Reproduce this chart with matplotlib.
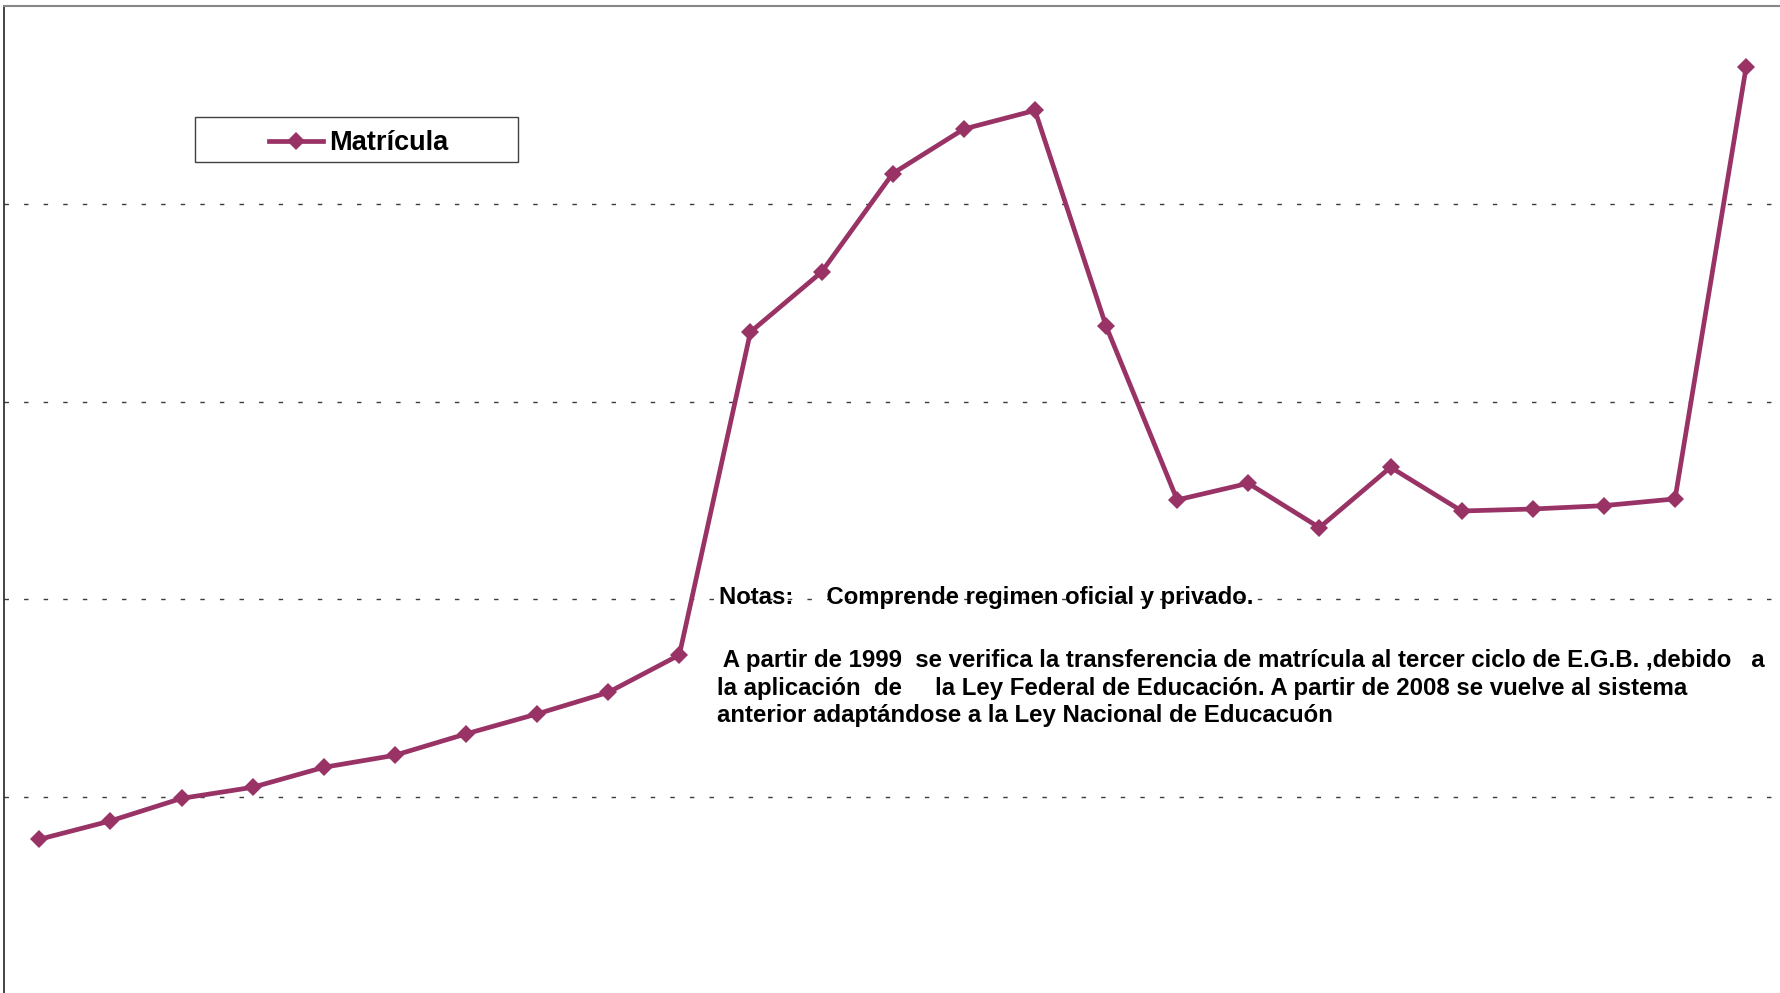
import numpy as np
import matplotlib
matplotlib.use("Agg")
import matplotlib.pyplot as plt
from matplotlib.patches import Rectangle

# datos (sin etiquetas de eje en el original)
anios = list(range(1984, 2009))
matricula = [787, 880, 994, 1050, 1151, 1212, 1320, 1421, 1530, 1719,
             3352, 3655, 4153, 4378, 4472, 3382, 2503, 2587, 2363, 2668,
             2447, 2457, 2474, 2508, 4692]
serie = "Matrícula"
nota_titulo = "Notas:     Comprende regimen oficial y privado."
nota_lineas = [
    " A partir de 1999  se verifica la transferencia de matrícula al tercer ciclo de E.G.B. ,debido   a",
    "la aplicación  de     la Ley Federal de Educación. A partir de 2008 se vuelve al sistema",
    "anterior adaptándose a la Ley Nacional de Educacuón",
]
grilla = [1000, 2000, 3000, 4000]

plt.rcParams["font.family"] = ["Liberation Sans", "DejaVu Sans"]

W, H = 1780, 993
color = "#993366"


def fx(px):
    return px / W


def fy(py):
    return 1 - py / H


fig = plt.figure(figsize=(W / 100, H / 100), dpi=100)
ax = fig.add_axes([fx(3.7), fy(995), 1778 / W, 989 / H])

ax.plot(anios, matricula, color=color, lw=3.4, marker="D", ms=9.3,
        mew=0, label=serie, zorder=3)

ax.set_xlim(anios[0] - 0.5, anios[-1] + 0.5)
ax.set_ylim(0, 5000)
ax.set_yticks(grilla)
ax.set_axisbelow(True)
ax.yaxis.grid(True, linestyle=(0, (3.2, 10.9)), color="#3c3c3c", lw=1.0)
ax.tick_params(left=False, labelleft=False, bottom=False, labelbottom=False)

ax.spines["top"].set_color("#878787")
ax.spines["top"].set_linewidth(1.5)
ax.spines["left"].set_color("#111111")
ax.spines["left"].set_linewidth(1.1)
ax.spines["right"].set_visible(False)
ax.spines["bottom"].set_visible(False)

# cuadro de leyenda
x0, y0, x1, y1 = 195, 117, 518, 162
ax.add_patch(Rectangle((fx(x0), fy(y1)), (x1 - x0) / W, (y1 - y0) / H,
                       transform=fig.transFigure, fc="white", ec="#404040",
                       lw=1.0, zorder=4, clip_on=False))
leg = ax.legend(loc="center", bbox_to_anchor=(fx((x0 + x1) / 2 + 2), fy((y0 + y1) / 2 + 3.5)),
                bbox_transform=fig.transFigure, frameon=False, numpoints=1,
                handlelength=2.0, handletextpad=0.2, borderpad=0,
                prop={"weight": "bold", "size": 19.5})
leg.set_zorder(6)

# notas
fig.text(fx(719), fy(604), nota_titulo, fontsize=17.2, fontweight="bold",
         va="baseline", ha="left")
for i, linea in enumerate(nota_lineas):
    fig.text(fx(717), fy(667 + 27.5 * i), linea, fontsize=17.3,
             fontweight="bold", va="baseline", ha="left")

fig.savefig("out.png", dpi=100)
